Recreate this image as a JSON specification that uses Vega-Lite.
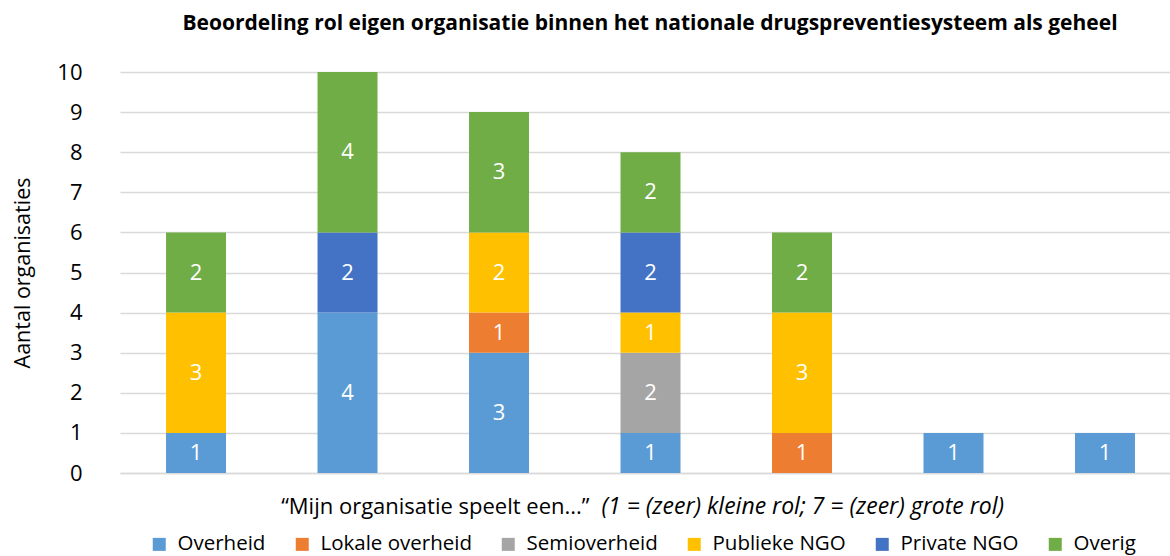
{
  "$schema": "https://vega.github.io/schema/vega-lite/v6.json",
  "width": 1050,
  "height": 401,
  "autosize": {"type": "none"},
  "padding": {"left": 120, "top": 72, "right": 0, "bottom": 83},
  "background": "white",
  "config": {"font": "Open Sans", "view": {"stroke": null}},
  "title": {
    "text": "Beoordeling rol eigen organisatie binnen het nationale drugspreventiesysteem als geheel",
    "fontSize": 21,
    "fontWeight": "bold",
    "font": "Open Sans",
    "color": "#000000",
    "anchor": "middle",
    "dx": 5,
    "offset": 27
  },
  "data": {
    "values": [
      {"score": 1, "group": "Overheid", "n": 1},
      {"score": 1, "group": "Publieke NGO", "n": 3},
      {"score": 1, "group": "Overig", "n": 2},
      {"score": 2, "group": "Overheid", "n": 4},
      {"score": 2, "group": "Private NGO", "n": 2},
      {"score": 2, "group": "Overig", "n": 4},
      {"score": 3, "group": "Overheid", "n": 3},
      {"score": 3, "group": "Lokale overheid", "n": 1},
      {"score": 3, "group": "Publieke NGO", "n": 2},
      {"score": 3, "group": "Overig", "n": 3},
      {"score": 4, "group": "Overheid", "n": 1},
      {"score": 4, "group": "Semioverheid", "n": 2},
      {"score": 4, "group": "Publieke NGO", "n": 1},
      {"score": 4, "group": "Private NGO", "n": 2},
      {"score": 4, "group": "Overig", "n": 2},
      {"score": 5, "group": "Lokale overheid", "n": 1},
      {"score": 5, "group": "Publieke NGO", "n": 3},
      {"score": 5, "group": "Overig", "n": 2},
      {"score": 6, "group": "Overheid", "n": 1},
      {"score": 7, "group": "Overheid", "n": 1}
    ]
  },
  "transform": [
    {"calculate": "indexof(['Overheid','Lokale overheid','Semioverheid','Publieke NGO','Private NGO','Overig'], datum.group)", "as": "k"},
    {"stack": "n", "groupby": ["score"], "sort": [{"field": "k", "order": "ascending"}], "as": ["y0", "y1"]},
    {"calculate": "(datum.y0 + datum.y1) / 2", "as": "ym"}
  ],
  "layer": [
    {
      "mark": {"type": "bar"},
      "encoding": {
        "x": {
          "field": "score",
          "type": "ordinal",
          "scale": {"paddingInner": 0.604, "paddingOuter": 0.2675, "align": 0.568},
          "axis": {
            "orient": "bottom",
            "labels": false,
            "ticks": false,
            "domain": true,
            "domainColor": "#d9d9d9",
            "domainWidth": 1.5,
            "title": "“Mijn organisatie speelt een...”",
            "titleFont": "Open Sans",
            "titleFontSize": 22,
            "titleFontWeight": "normal",
            "titleColor": "#000000",
            "titleAlign": "right",
            "titleAnchor": null,
            "titleBaseline": "alphabetic",
            "titleX": 469,
            "titleY": 40
          }
        },
        "y": {
          "field": "y0",
          "type": "quantitative",
          "scale": {"domain": [0, 10]},
          "axis": {
            "values": [0, 1, 2, 3, 4, 5, 6, 7, 8, 9, 10],
            "grid": true,
            "gridColor": "#d9d9d9",
            "gridWidth": 1.5,
            "ticks": false,
            "domain": false,
            "labelFontSize": 22,
            "labelColor": "#000000",
            "labelPadding": 38,
            "title": "Aantal organisaties",
            "titleFontSize": 21.5,
            "titleFontWeight": "normal",
            "titleColor": "#000000",
            "titlePadding": 22
          }
        },
        "y2": {"field": "y1"},
        "color": {
          "field": "group",
          "type": "nominal",
          "scale": {
            "domain": ["Overheid", "Lokale overheid", "Semioverheid", "Publieke NGO", "Private NGO", "Overig"],
            "range": ["#5B9BD5", "#ED7D31", "#A5A5A5", "#FFC000", "#4472C4", "#70AD47"]
          },
          "legend": {
            "orient": "none",
            "legendX": 29,
            "legendY": 462,
            "direction": "horizontal",
            "title": null,
            "symbolType": "square",
            "symbolSize": 169,
            "symbolStrokeWidth": 0,
            "labelFontSize": 20.5,
            "labelColor": "#000000",
            "labelOffset": 8,
            "columnPadding": 26
          }
        }
      }
    },
    {
      "mark": {"type": "text", "color": "white", "fontSize": 22, "baseline": "middle"},
      "encoding": {
        "x": {
          "field": "score",
          "type": "ordinal",
          "axis": {
            "orient": "bottom",
            "labels": false,
            "ticks": false,
            "domain": false,
            "title": "(1 = (zeer) kleine rol; 7 = (zeer) grote rol)",
            "titleFont": "Open Sans",
            "titleFontSize": 23,
            "titleFontWeight": "normal",
            "titleFontStyle": "italic",
            "titleColor": "#000000",
            "titleAlign": "left",
            "titleAnchor": null,
            "titleBaseline": "alphabetic",
            "titleX": 481,
            "titleY": 40
          }
        },
        "y": {"field": "ym", "type": "quantitative"},
        "text": {"field": "n", "type": "quantitative"}
      }
    }
  ],
  "resolve": {"axis": {"x": "independent"}}
}
